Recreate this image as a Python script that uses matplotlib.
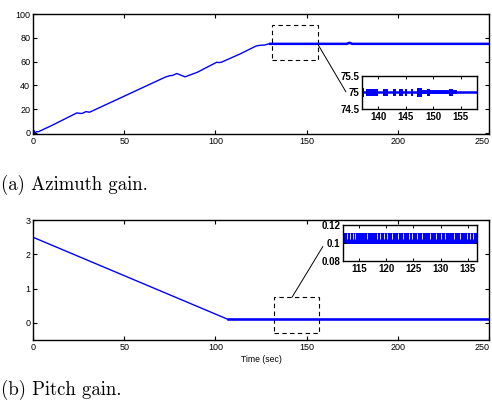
import numpy as np
import matplotlib
matplotlib.use('Agg')
import matplotlib.pyplot as plt
from matplotlib.patches import Rectangle, ConnectionPatch

# azimuth gain
az_t = [0, 0.5, 1, 2, 3, 10, 24, 26, 27, 29, 31, 48, 72.4, 75, 76.5, 78.8, 83.3,
        90, 100.7, 102, 103.4, 113.5, 122.3, 124.5, 127, 129, 130, 172, 173.5,
        175, 250]
az_val = [0, 2, 0, 1, 1, 6, 16.8, 16.4, 16.4, 17.9, 17.4, 29.5, 46.9, 48.2, 48.4,
          50.0, 47.2, 51.0, 59.5, 59.2, 59.6, 66.5, 73.2, 73.8, 74.0, 74.9, 75,
          75, 75.9, 75, 75]
az_steady_from = 130

# chattering bursts in the azimuth inset
burst_start = [137.0, 137.8, 140.8, 142.6, 143.8, 144.9, 145.9, 147.1, 148.9, 152.9]
burst_end = [137.4, 139.9, 141.7, 143.2, 144.4, 145.3, 146.3, 148.0, 149.5, 153.7]
burst_amp = [0.15, 0.12, 0.12, 0.11, 0.11, 0.1, 0.11, 0.14, 0.1, 0.1]

# pitch gain
pt_t = [0, 0, 107, 250]
pt_val = [0, 2.5, 0.1, 0.1]
pt_steady_from = 107
pt_band_lo, pt_band_hi = 0.099, 0.111
pt_gaps = [112.8, 113.3, 113.8, 114.3, 116.5, 118.3, 118.9, 119.5, 120.1, 121.0,
           122.2, 123.0, 124.2, 124.7, 125.7, 126.5, 128.1, 129.2, 130.0, 130.8,
           132.4, 133.6, 134.8, 135.4, 136.0]

blue = '#0000ff'


def style_main(ax):
    ax.tick_params(direction='in', top=True, right=True, length=3, width=0.8,
                   labelsize=6.5, pad=2)
    for lab in ax.get_xticklabels() + ax.get_yticklabels():
        lab.set_fontfamily('Liberation Sans')
    # keep the last x label inside the figure
    ax.get_xticklabels()[-1].set_horizontalalignment('right')
    ax.get_xticklabels()[-1].set_x(251)
    for s in ax.spines.values():
        s.set_linewidth(1.0)


def style_inset(ax):
    ax.tick_params(direction='in', top=True, right=True, length=2, width=0.7,
                   labelsize=7, pad=2)
    for lab in ax.get_xticklabels() + ax.get_yticklabels():
        lab.set_fontfamily('Liberation Sans')
        lab.set_fontweight('bold')
    for s in ax.spines.values():
        s.set_linewidth(1.0)


fig = plt.figure(figsize=(4.92, 4.05), dpi=100)

# ---- (a) azimuth
ax1 = fig.add_axes([0.0671, 0.669, 0.927, 0.296])
t = np.array(az_t)
v = np.array(az_val)
ax1.plot(t, v, color=blue, lw=1.0)
m = t >= az_steady_from
ax1.plot(t[m], v[m], color=blue, lw=1.8)
ax1.set_xlim(0, 250)
ax1.set_ylim(-1, 100)
ax1.set_xticks([0, 50, 100, 150, 200, 250])
ax1.set_yticks([0, 20, 40, 60, 80, 100])
style_main(ax1)
ax1.add_patch(Rectangle((131, 61), 25, 30, fill=False, ls=(0, (4, 3)),
                        lw=0.8, color='k'))

in1 = fig.add_axes([0.7358, 0.7309, 0.2337, 0.0815])
in1.plot([136, 159], [75, 75], color=blue, lw=1.8)
in1.plot([148, 154], [75, 75], color=blue, lw=2.8)
bs = np.array(burst_start)
be = np.array(burst_end)
ba = np.array(burst_amp)
in1.bar((bs + be) / 2, 2 * ba, width=be - bs, bottom=75 - ba, color=blue, lw=0)
in1.set_xlim(137, 158)
in1.set_ylim(74.5, 75.5)
in1.set_xticks([140, 145, 150, 155])
in1.set_yticks([74.5, 75, 75.5])
in1.set_yticklabels(['74.5', '75', '75.5'])
style_inset(in1)
fig.add_artist(ConnectionPatch(xyA=(156, 75), coordsA=ax1.transData,
                               xyB=(-0.14, 0.52), coordsB=in1.transAxes,
                               color='k', lw=0.7))

fig.text(0.002, 0.543, '(a) Azimuth gain.', family='cmr10', fontsize=13.5,
         va='center', ha='left')

# ---- (b) pitch
ax2 = fig.add_axes([0.0671, 0.1605, 0.927, 0.296])
ax2.plot(pt_t, pt_val, color=blue, lw=1.0)
ax2.plot([pt_steady_from, 250], [0.1, 0.1], color=blue, lw=1.8)
ax2.set_xlim(0, 250)
ax2.set_ylim(-0.5, 3)
ax2.set_xticks([0, 50, 100, 150, 200, 250])
ax2.set_yticks([0, 1, 2, 3])
style_main(ax2)
ax2.set_xlabel('Time (sec)', fontsize=6.2, family='Liberation Sans', labelpad=2)
ax2.add_patch(Rectangle((132, -0.31), 25, 1.06, fill=False, ls=(0, (4, 3)),
                        lw=0.8, color='k'))

in2 = fig.add_axes([0.697, 0.3556, 0.2724, 0.0889])
in2.fill_between([111, 138], pt_band_lo, pt_band_hi, color=blue, lw=0)
in2.vlines(pt_gaps, 0.1045, pt_band_hi, color='white', lw=0.6)
in2.set_xlim(112, 136.7)
in2.set_ylim(0.08, 0.12)
in2.set_xticks([115, 120, 125, 130, 135])
in2.set_yticks([0.08, 0.1, 0.12])
in2.set_yticklabels(['0.08', '0.1', '0.12'])
style_inset(in2)
fig.add_artist(ConnectionPatch(xyA=(142, 0.75), coordsA=ax2.transData,
                               xyB=(-0.15, 0.40), coordsB=in2.transAxes,
                               color='k', lw=0.7))

fig.text(0.002, 0.037, '(b) Pitch gain.', family='cmr10', fontsize=13.5,
         va='center', ha='left')

fig.savefig('out.png', dpi=100)
